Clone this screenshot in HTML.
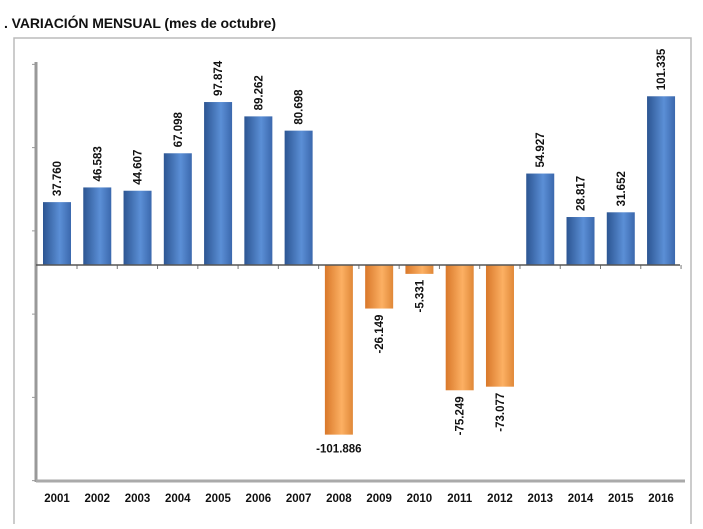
<!DOCTYPE html>
<html><head><meta charset="utf-8"><style>
body{margin:0;background:#fff;width:703px;height:524px;overflow:hidden;font-family:"Liberation Sans",sans-serif}
</style></head><body>
<svg width="703" height="524">
<defs>
<linearGradient id="gb" x1="0" x2="1"><stop offset="0" stop-color="#2c5592"/><stop offset="0.6" stop-color="#5b8fd6"/><stop offset="1" stop-color="#3b68ad"/></linearGradient>
<linearGradient id="go" x1="0" x2="1"><stop offset="0" stop-color="#d9782a"/><stop offset="0.6" stop-color="#fcb063"/><stop offset="1" stop-color="#e08838"/></linearGradient>
</defs>
<text x="4" y="28" font-size="14" font-weight="bold" fill="#111" textLength="272">. VARIACIÓN MENSUAL (mes de octubre)</text>
<rect x="14" y="38" width="677" height="490" fill="none" stroke="#bbb" stroke-width="1.5"/>
<g id="plot"></g>
</svg>
<script>
const years=["2001","2002","2003","2004","2005","2006","2007","2008","2009","2010","2011","2012","2013","2014","2015","2016"];
const values=[37.760,46.583,44.607,67.098,97.874,89.262,80.698,-101.886,-26.149,-5.331,-75.249,-73.077,54.927,28.817,31.652,101.335];
const labels=["37.760","46.583","44.607","67.098","97.874","89.262","80.698","-101.886","-26.149","-5.331","-75.249","-73.077","54.927","28.817","31.652","101.335"];
const tickVals=[-129.5,-79.5,-29.5,20.5,70.5,120.5];
const ns="http://www.w3.org/2000/svg";
const g=document.getElementById('plot');
const y0=265,k=1.665;
const y=v=>y0-v*k;
const x=i=>57+i*40.27;
function mk(t,a){const e=document.createElementNS(ns,t);for(const n in a)e.setAttribute(n,a[n]);g.appendChild(e);return e;}
let e=mk('line',{x1:36,y1:62,x2:36,y2:482,stroke:'#999','stroke-width':3});

e=mk('line',{x1:36,y1:481,x2:685,y2:481,stroke:'#aaa','stroke-width':3});

tickVals.forEach(v=>{const t=mk('line',{x1:32,y1:y(v),x2:36,y2:y(v),stroke:'#999','stroke-width':1});
});
values.forEach((v,i)=>{
 const cx=x(i),w=28;
 const r=mk('rect',{x:cx-w/2,y:Math.min(y(v),y0),width:w,height:Math.abs(v*k),fill:v>=0?'url(#gb)':'url(#go)'});
 
 let t;
 if(i===7){t=mk('text',{x:cx,y:y(v)+18,'text-anchor':'middle','font-size':11.5,'font-weight':'bold',fill:'#111'});}
 else if(v>=0){const ty=y(v)-6;t=mk('text',{x:cx+4,y:ty,transform:`rotate(-90 ${cx+4} ${ty})`,'font-size':11.5,'font-weight':'bold',fill:'#111'});}
 else{const ty=y(v)+6;t=mk('text',{x:cx+4,y:ty,transform:`rotate(-90 ${cx+4} ${ty})`,'text-anchor':'end','font-size':11.5,'font-weight':'bold',fill:'#111'});}
 t.textContent=labels[i];
 
 const xl=mk('text',{x:cx,y:502,'text-anchor':'middle','font-size':11.5,'font-weight':'bold',fill:'#111'});
 xl.textContent=years[i];
 
 const tk=mk('line',{x1:cx+20,y1:y0,x2:cx+20,y2:y0+4,stroke:'#777'});
 
});
e=mk('line',{x1:36,y1:y0,x2:680,y2:y0,stroke:'#555','stroke-width':1.5});

</script>
</body></html>
